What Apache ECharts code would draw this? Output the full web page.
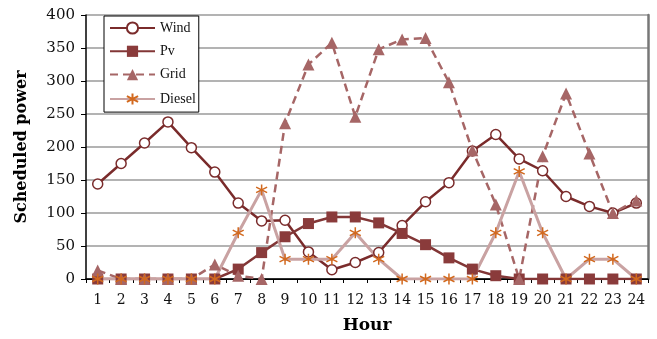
<!DOCTYPE html>
<html>
<head>
<meta charset="utf-8">
<script src="https://cdn.jsdelivr.net/npm/echarts@6/dist/echarts.min.js"></script>
<style>
  html, body { margin: 0; padding: 0; background: #fff; }
  #chart { width: 657px; height: 339px; }
</style>
</head>
<body>
<div id="chart"></div>
<script>
// Hourly schedule of power sources over one day
const hours = ['1','2','3','4','5','6','7','8','9','10','11','12','13','14','15','16','17','18','19','20','21','22','23','24'];
const wind   = [144,175,206,238,199,162,115,88,89,41,14,25,40,81,117,146,194,219,182,164,125,110,100,115];
const pv     = [0,0,0,0,0,0,15,40,64,84,94,94,85,69,52,32,15,5,0,0,0,0,0,0];
const grid   = [13,0,0,0,0,22,5,0,236,325,358,246,348,363,365,298,195,113,0,186,281,190,100,119];
const diesel = [0,0,0,0,0,0,70,135,30,30,30,70,30,0,0,0,0,70,163,70,0,30,30,0];
const yTicks = { min: 0, max: 400, interval: 50 };

const FONT = 'DejaVu Serif';
const LEGEND_FONT = 'Liberation Serif';
const asterisk = 'path://M5,0 L5,10 M0.67,2.5 L9.33,7.5 M0.67,7.5 L9.33,2.5';

const chart = echarts.init(document.getElementById('chart'), null, { renderer: 'canvas' });
chart.setOption({
  animation: false,
  backgroundColor: '#fff',
  grid: { left: 86, right: 9, top: 15, bottom: 56 },
  legend: {
    orient: 'vertical',
    left: 104, top: 16,
    padding: [5, 3, 5, 5],
    itemGap: 9.3,
    itemWidth: 45, itemHeight: 14,
    backgroundColor: '#fff',
    borderColor: '#000', borderWidth: 1,
    textStyle: { fontFamily: LEGEND_FONT, fontSize: 14, color: '#111' },
    data: ['Wind', 'Pv', 'Grid', 'Diesel']
  },
  xAxis: [{
    type: 'category', data: hours, boundaryGap: true,
    name: 'Hour', nameLocation: 'middle', nameGap: 38,
    nameTextStyle: { fontFamily: FONT, fontWeight: 'bold', fontSize: 17, color: '#000' },
    axisLine: { lineStyle: { color: '#000', width: 1.5 } },
    axisTick: { show: true, alignWithLabel: false, length: 4, lineStyle: { color: '#000' } },
    axisLabel: { fontFamily: FONT, fontSize: 14, color: '#111', margin: 14 }
  }, {
    type: 'category', data: hours, position: 'top',
    axisLine: { lineStyle: { color: '#000', width: 1 } },
    axisTick: { show: false }, axisLabel: { show: false }
  }],
  yAxis: [{
    type: 'value', min: yTicks.min, max: yTicks.max, interval: yTicks.interval,
    name: 'Scheduled power', nameLocation: 'middle', nameGap: 56,
    nameTextStyle: { fontFamily: FONT, fontWeight: 'bold', fontSize: 16, color: '#000' },
    axisLine: { show: true, lineStyle: { color: '#000', width: 1.5 } },
    axisTick: { show: true, length: 5, lineStyle: { color: '#000' } },
    axisLabel: { fontFamily: FONT, fontSize: 15, color: '#111', margin: 11 },
    splitLine: { lineStyle: { color: '#9a9a9a', width: 1.5 } }
  }, {
    type: 'value', min: yTicks.min, max: yTicks.max, interval: yTicks.interval, position: 'right',
    axisLine: { show: true, lineStyle: { color: '#777', width: 2.5 } },
    axisTick: { show: false }, axisLabel: { show: false }, splitLine: { show: false }
  }],
  series: [{
    name: 'Wind', type: 'line', data: wind,
    symbol: 'circle', symbolSize: 10,
    lineStyle: { color: '#7a2b2b', width: 2.5 },
    itemStyle: { color: '#fff', borderColor: '#7a2b2b', borderWidth: 1.5 }
  }, {
    name: 'Pv', type: 'line', data: pv,
    symbol: 'rect', symbolSize: 11,
    lineStyle: { color: '#823636', width: 2.5 },
    itemStyle: { color: '#8a3b3b', borderColor: '#8a3b3b', borderWidth: 0 }
  }, {
    name: 'Grid', type: 'line', data: grid,
    symbol: 'triangle', symbolSize: 12,
    lineStyle: { color: '#a66666', width: 2.5, type: [8, 5] },
    itemStyle: { color: '#a66666', borderColor: '#a66666', borderWidth: 0 }
  }, {
    name: 'Diesel', type: 'line', data: diesel,
    symbol: asterisk, symbolSize: 11,
    lineStyle: { color: '#c9a2a2', width: 3 },
    itemStyle: { color: 'none', borderColor: '#d2691e', borderWidth: 1.5 }
  }]
});
</script>
</body>
</html>
